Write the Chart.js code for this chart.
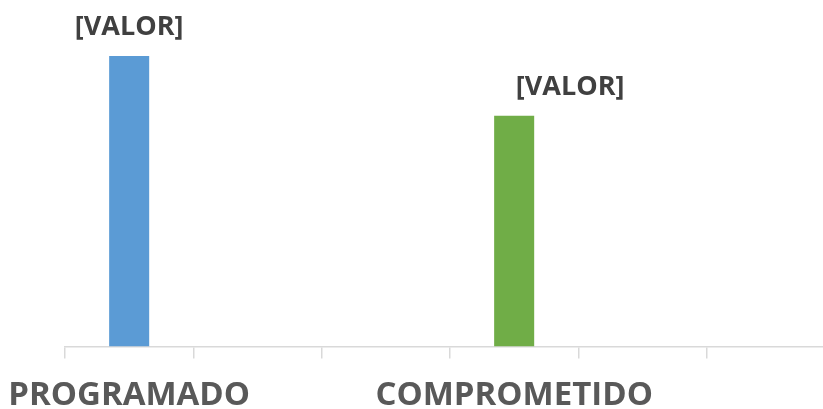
<!DOCTYPE html>
<html lang="es">
<head>
<meta charset="UTF-8">
<title>Programado vs Comprometido</title>
<style>
  html, body { margin: 0; padding: 0; background: #fff; overflow: hidden; }
  #wrap { width: 840px; height: 432px; }
</style>
</head>
<body>
<div id="wrap"><canvas id="chart"></canvas></div>
<script src="https://cdn.jsdelivr.net/npm/chart.js"></script>
<script>
// categories (Excel shows only every third label)
const categories = ['PROGRAMADO', '', '', 'COMPROMETIDO', '', ''];
const values = [100, null, null, 79.4, null, null];
const barColors = ['#5B9BD5', '#5B9BD5', '#5B9BD5', '#70AD47', '#70AD47', '#70AD47'];
const valueLabels = ['[VALOR]', '', '', '[VALOR]', '', ''];
const labelShiftX = [0, 0, 0, 56, 0, 0];

// draws the "[VALOR]" text above each bar
const valueLabelPlugin = {
  id: 'valueLabels',
  afterDatasetsDraw(chart) {
    const ctx = chart.ctx;
    const meta = chart.getDatasetMeta(0);
    ctx.save();
    ctx.font = 'bold 27px "Open Sans"';
    ctx.fillStyle = '#404040';
    ctx.textAlign = 'center';
    ctx.textBaseline = 'alphabetic';
    meta.data.forEach((bar, i) => {
      if (values[i] == null || !valueLabels[i]) return;
      ctx.fillText(valueLabels[i], bar.x + labelShiftX[i], bar.y - 21);
    });
    ctx.restore();
  }
};

new Chart(document.getElementById('chart'), {
  type: 'bar',
  data: {
    labels: categories,
    datasets: [{
      data: values,
      backgroundColor: barColors,
      barPercentage: 0.312,
      categoryPercentage: 1
    }]
  },
  options: {
    responsive: true,
    maintainAspectRatio: false,
    animation: false,
    layout: { padding: { top: 56, left: 65, right: 5, bottom: 0 } },
    plugins: { legend: { display: false }, tooltip: { enabled: false } },
    scales: {
      x: {
        // let the long first label hang into the left margin like Excel does
        afterFit(scale) { scale.paddingLeft = 0; scale.paddingRight = 0; },
        grid: { drawOnChartArea: false, drawTicks: true, tickLength: 12, color: '#d9d9d9', lineWidth: 1.5 },
        border: { display: true, color: '#d9d9d9', width: 1.5 },
        ticks: {
          autoSkip: false, maxRotation: 0, minRotation: 0, padding: 17,
          color: '#595959', font: { family: 'Open Sans', weight: 'bold', size: 33 }
        }
      },
      y: { display: false, min: 0, max: 100 }
    }
  },
  plugins: [valueLabelPlugin]
});
</script>
</body>
</html>
